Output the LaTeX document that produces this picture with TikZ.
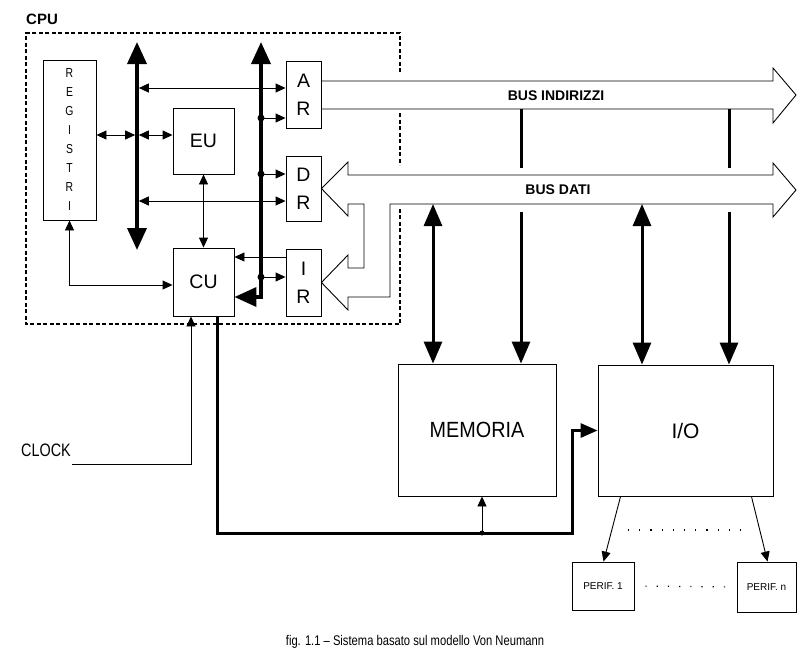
\documentclass[tikz,border=0pt]{standalone}
\usepackage{fontspec}
\setmainfont{Liberation Sans}
\newfontfamily\narrowfont{Liberation Sans}[FakeStretch=0.8]
\newfontfamily\midfont{Liberation Sans}[FakeStretch=0.9]
\usetikzlibrary{arrows.meta}

\begin{document}
\begin{tikzpicture}[x=1pt,y=-1pt,
  blk/.style={draw, line width=0.9pt, inner sep=0pt, align=center},
  ln/.style={line width=0.9pt},
  tk/.style={line width=3pt},
  busln/.style={line width=3.6pt},
  >={Triangle[width=9pt,length=10pt]},
  bigtip/.style={>={Triangle[width=19pt,length=22pt]}},
  memtip/.style={>={Triangle[width=18pt,length=22pt]}},
  iotip/.style={>={Triangle[width=14pt,length=17pt]}},
  dotnode/.style={circle, fill, inner sep=0pt, minimum size=7pt},
  lbl/.style={font=\fontsize{19.5}{28}\selectfont},
  cpudash/.style={line width=1.3pt, dash pattern=on 4pt off 2.5pt},
  dotsln/.style={line width=1.2pt, dash pattern=on 1.2pt off 10pt},
]
\fill[white] (0,0) rectangle (797,664);
\useasboundingbox (0,0) rectangle (797,664);

% CPU frame
\node[font=\bfseries\fontsize{15}{18}\selectfont, anchor=west, inner sep=0pt] (cpu) at (26,19) {CPU};
\draw[cpudash] (400,72) -- (400,33) -- (26,33) -- (26,324) -- (400,324) -- (400,207);
\draw[cpudash] (400,113) -- (400,165);

% blocks
\node[blk, minimum width=53pt, minimum height=160pt, font=\narrowfont\fontsize{13}{19}\selectfont] (reg) at (69.5,140) {R\\E\\G\\I\\S\\T\\R\\I};
\node[blk, minimum width=61pt, minimum height=66pt, lbl] (eu) at (203.5,141) {EU};
\node[blk, minimum width=61pt, minimum height=68pt, lbl] (cu) at (203.5,282) {CU};
\node[blk, minimum width=35pt, minimum height=67pt, lbl] (ar) at (303.5,94.5) {A\\R};
\node[blk, minimum width=35pt, minimum height=65pt, lbl] (dr) at (303.5,188.5) {D\\R};
\node[blk, minimum width=35pt, minimum height=67pt, lbl] (ir) at (303.5,282.5) {I\\R};
\node[blk, minimum width=158pt, minimum height=132pt, font=\midfont\fontsize{22}{26}\selectfont] (mem) at (477,430) {MEMORIA};
\node[blk, minimum width=175pt, minimum height=131pt, font=\fontsize{21}{26}\selectfont] (io) at (685.5,430.5) {I/O};
\node[blk, minimum width=62pt, minimum height=48pt, font=\fontsize{10}{12}\selectfont] (p1) at (603,586) {PERIF. 1};
\node[blk, minimum width=59pt, minimum height=50pt, font=\fontsize{10}{12}\selectfont] (pn) at (766.5,587) {PERIF. n};

\node[font=\narrowfont\fontsize{18}{20}\selectfont, inner sep=0pt] (clock) at (46,450) {CLOCK};
\node[font=\narrowfont\fontsize{14}{16}\selectfont] (cap) at (415,642) {fig. 1.1 – Sistema basato sul modello Von Neumann};

% internal buses
\coordinate (lbT) at (137,42); \coordinate (lbB) at (137,250);
\draw[busln, bigtip, <->] (lbT) -- (lbB);
\coordinate (rbT) at (261,42); \coordinate (rbB) at (261,297);
\draw[busln, bigtip, <->] (rbT) -- (rbB) -- (rbB -| cu.east);

% taps
\coordinate (t88) at (137,88);
\draw[ln,<->,shorten <=1.8pt] (t88) -- (t88 -| ar.west);
\node[dotnode] (dA) at (261,118) {};
\draw[ln,->] (dA.center) -- (dA -| ar.west);
\coordinate (t135) at (137,135);
\draw[ln,<->,shorten >=1.8pt] (reg.east |- t135) -- (t135);
\draw[ln,<->,shorten <=1.8pt] (t135) -- (t135 -| eu.west);
\node[dotnode] (dD) at (261,174) {};
\draw[ln,->] (dD.center) -- (dD -| dr.west);
\coordinate (t201) at (137,201);
\draw[ln,<->,shorten <=1.8pt] (t201) -- (t201 -| dr.west);
\draw[ln,<->] (eu.south) -- (cu.north);
\coordinate (c257) at (0,257);
\draw[ln,->] (ir.west |- c257) -- (cu.east |- c257);
\node[dotnode] (dI) at (261,277) {};
\draw[ln,->] (dI.center) -- (dI -| ir.west);
\draw[ln,<->] (reg.south) |- ([yshift=-3pt]cu.west);

% clock
\coordinate (ck) at (72,464);
\draw[ln,->] (ck) -| ([xshift=-12.5pt]cu.south);

% control line to memory and I/O
\coordinate (cb) at (217,533);
\node[dotnode, minimum size=5pt] (jm) at (482,533) {};
\coordinate (tkc) at (572,533);
\draw[tk, iotip, ->] ([xshift=13.5pt]cu.south) -- (cb) -- (tkc) |- (io.west);
\draw[ln,->] (jm.center) -- (jm |- mem.south);

% address bus
\draw[ln] ([yshift=13.5pt]ar.east) -- (773,81) -- (773,68) -- (796,95) -- (773,123) -- (773,109) -- ([yshift=-14.5pt]ar.east);
\node[font=\bfseries\fontsize{14}{16}\selectfont] (bi) at (556,96) {BUS INDIRIZZI};

% data bus
\draw[ln] (dr.east) -- (348,162) -- (348,175) -- (773,175) -- (773,163) -- (796,190) -- (773,217) -- (773,204)
  -- (390,204) -- (390,297) -- (348,297) -- (348,310) -- (ir.east) -- (348,255) -- (348,268) -- (364,268)
  -- (364,204) -- (348,204) -- (348,216) -- cycle;
\node[font=\bfseries\fontsize{14}{16}\selectfont] (bd) at (558,190) {BUS DATI};

% bus connections
\coordinate (a1) at (433,204);
\draw[tk, memtip, <->] (a1) -- (a1 |- mem.north);
\coordinate (a2) at (642,204);
\draw[tk, memtip, <->] (a2) -- (a2 |- io.north);
\coordinate (b1t) at (521,109); \coordinate (b1m) at (521,168); \coordinate (b1l) at (521,212);
\draw[tk] (b1t) -- (b1m);
\draw[tk, memtip, ->] (b1l) -- (b1l |- mem.north);
\coordinate (b2t) at (729,109); \coordinate (b2m) at (729,168); \coordinate (b2l) at (729,212);
\draw[tk] (b2t) -- (b2m);
\draw[tk, memtip, ->] (b2l) -- (b2l |- io.north);

% peripherals
\draw[ln,->] ([xshift=23pt]io.south west) -- ([xshift=32pt]p1.north west);
\draw[ln,->] ([xshift=-22pt]io.south east) -- ([xshift=31pt]pn.north west);
\draw[dotsln] (628,530) -- (748,530);
\draw[dotsln, shorten <=11pt, shorten >=10pt] (p1.east) -- (pn.west);
\end{tikzpicture}
\end{document}
